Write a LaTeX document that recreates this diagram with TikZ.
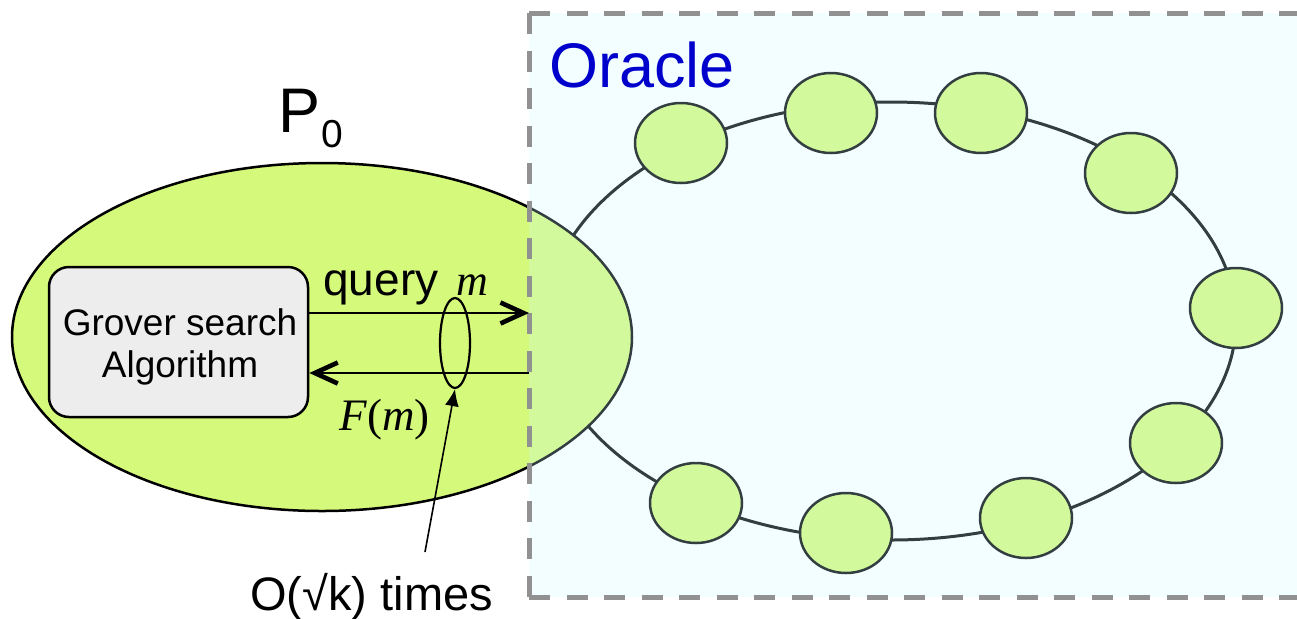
\documentclass[tikz,border=0pt]{standalone}
\usepackage{fontspec}
\setmainfont{Liberation Sans}
\newfontfamily\timesfont{Liberation Serif}
\usetikzlibrary{arrows.meta,shapes.geometric}

\definecolor{pgreen}{RGB}{213,249,122}
\definecolor{boxgray}{RGB}{237,237,237}
\definecolor{oraclefill}{RGB}{203,251,255}
\definecolor{dashgray}{RGB}{145,145,145}
\definecolor{oracleblue}{RGB}{0,0,204}

\begin{document}
\begin{tikzpicture}[x=0.5pt,y=-0.5pt,
  member/.style={ellipse, draw=black, line width=1.25pt, fill=pgreen,
    minimum width=46pt, minimum height=40pt, inner sep=0pt},
  txt/.style={inner sep=0pt, anchor=base west},
  msg/.style={line width=1.3pt,
    -{Straight Barb[length=11.5pt,width=10.5pt,line width=2.3pt]}},
  oracleedge/.style={dashgray, line width=2.5pt, dash pattern=on 10.5pt off 8.25pt},
  algobox/.style={draw, rounded corners=10pt, fill=boxgray, line width=1.25pt,
    minimum width=129.5pt, minimum height=75pt, inner sep=0pt}
]
\useasboundingbox (0,0) rectangle (1297,618);

\begin{scope}
  \clip (0,0) rectangle (1297,618);
  % ring of oracle parties
  \draw[line width=1.5pt] (891,321) ellipse [x radius=345, y radius=219];
  \foreach \n/\x/\y in {1/681/143, 2/831/113, 3/981/113, 4/1131/173,
                        5/1236/308, 6/1176/443, 7/1026/518, 8/846/533, 9/696/503}
    \node[member] (c\n) at (\x,\y) {};
  % party P0
  \draw[line width=1.25pt, fill=pgreen] (322,337) ellipse [x radius=310, y radius=174];
  % oracle region, tinted over everything beneath it
  \fill[oraclefill, fill opacity=0.25] (529,13) rectangle (1330,597);
  \draw[oracleedge] (529,13) -- (1330,13);
  \draw[oracleedge] (529,13) -- (529,597);
  \draw[oracleedge] (529,597) -- (1330,597);
\end{scope}

\node[txt, text=oracleblue, font=\fontsize{31.5}{36}\selectfont] (oracle) at (549,87) {Oracle};
\node[txt] (p0) at (278,132)
  {\fontsize{31.5}{36}\selectfont P\kern0.5pt\fontsize{19.5}{22}\selectfont\raisebox{-7.5pt}{0}};

% Grover search box
\node[algobox] (grover) at (178.5,342) {};
\node[inner sep=0pt, align=center, font=\fontsize{18.5}{21}\selectfont] (grovertxt)
  at (180,346.7) {Grover search\\Algorithm};

% query / answer exchange
\coordinate (qin) at (529,313);
\coordinate (fout) at (529,373);
\draw[msg] (grover.east |- qin) -- (qin);
\draw[msg] (fout) -- (grover.east |- fout);

\node[txt, font=\fontsize{23}{27}\selectfont] (query) at (323,295) {query};
\node[txt, font=\timesfont\itshape\fontsize{22}{26}\selectfont] (qm) at (456,295) {m};
\node[txt, font=\timesfont\fontsize{22.5}{27}\selectfont] (fm) at (339,430)
  {\itshape F\/\upshape(\itshape m\upshape)};

% repetition marker
\node[draw, ellipse, line width=1.1pt, minimum width=15pt, minimum height=45pt,
  inner sep=0pt] (loop) at (455,343) {};
\node[txt, font=\fontsize{23.5}{28}\selectfont] (times) at (250,610) {O(√k) times};
\coordinate (ptail) at (425,552);
\draw[line width=0.8pt, -{Latex[length=8.5pt,width=7pt]}] (ptail) -- (loop.south);
\end{tikzpicture}
\end{document}
